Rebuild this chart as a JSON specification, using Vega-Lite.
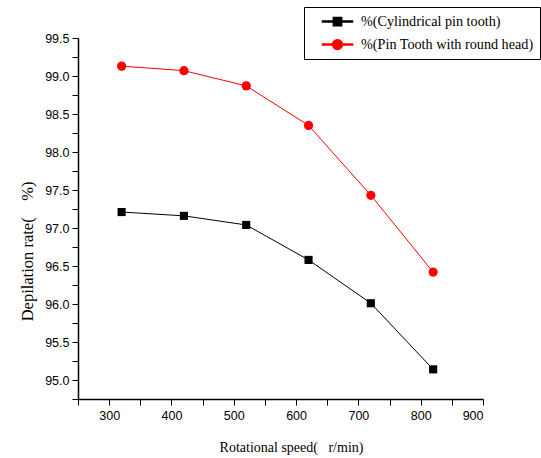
{
  "$schema": "https://vega.github.io/schema/vega-lite/v6.json",
  "width": 405,
  "height": 361,
  "autosize": {"type": "none"},
  "padding": {"left": 78, "top": 38, "right": 58, "bottom": 59},
  "background": "white",
  "config": {
    "view": {"stroke": null},
    "axis": {
      "grid": false,
      "domainColor": "black",
      "domainWidth": 1.5,
      "tickColor": "black",
      "tickWidth": 1,
      "tickSize": 6,
      "labelColor": "black",
      "labelFont": "Liberation Sans, Arial",
      "labelFontSize": 12.5,
      "titleFont": "Liberation Serif",
      "titleFontSize": 14,
      "titleFontWeight": "normal",
      "titleColor": "black"
    }
  },
  "data": {
    "values": [
      {"speed": 320, "rate": 97.21, "series": "%(Cylindrical pin tooth)"},
      {"speed": 420, "rate": 97.16, "series": "%(Cylindrical pin tooth)"},
      {"speed": 520, "rate": 97.04, "series": "%(Cylindrical pin tooth)"},
      {"speed": 620, "rate": 96.58, "series": "%(Cylindrical pin tooth)"},
      {"speed": 720, "rate": 96.01, "series": "%(Cylindrical pin tooth)"},
      {"speed": 820, "rate": 95.14, "series": "%(Cylindrical pin tooth)"},
      {"speed": 320, "rate": 99.13, "series": "%(Pin Tooth with round head)"},
      {"speed": 420, "rate": 99.07, "series": "%(Pin Tooth with round head)"},
      {"speed": 520, "rate": 98.87, "series": "%(Pin Tooth with round head)"},
      {"speed": 620, "rate": 98.35, "series": "%(Pin Tooth with round head)"},
      {"speed": 720, "rate": 97.43, "series": "%(Pin Tooth with round head)"},
      {"speed": 820, "rate": 96.42, "series": "%(Pin Tooth with round head)"}
    ]
  },
  "encoding": {
    "x": {
      "field": "speed",
      "type": "quantitative",
      "scale": {"domain": [250, 900], "nice": false, "zero": false},
      "axis": {
        "title": "Rotational speed(\u00a0\u00a0\u00a0r/min)",
        "values": [250, 300, 350, 400, 450, 500, 550, 600, 650, 700, 750, 800, 850, 900],
        "labelExpr": "datum.value % 100 === 0 ? datum.label : ''",
        "labelPadding": 4,
        "titleX": 213,
        "titleY": 48,
        "titleBaseline": "middle",
        "encode": {
          "ticks": {"update": {"y2": {"signal": "datum.value % 100 === 0 ? 6 : 3"}}}
        }
      }
    },
    "y": {
      "field": "rate",
      "type": "quantitative",
      "scale": {"domain": [94.75, 99.5], "nice": false, "zero": false},
      "axis": {
        "title": "Depilation rate(\u00a0\u00a0\u00a0\u00a0%)",
        "titleFontSize": 16.5,
        "values": [94.75, 95, 95.25, 95.5, 95.75, 96, 96.25, 96.5, 96.75, 97, 97.25, 97.5, 97.75, 98, 98.25, 98.5, 98.75, 99, 99.25, 99.5],
        "format": ".1f",
        "labelExpr": "abs(datum.value * 2 - round(datum.value * 2)) < 0.000001 ? datum.label : ''",
        "labelPadding": 3,
        "titleX": -51,
        "titleY": 213,
        "titleBaseline": "middle",
        "encode": {
          "ticks": {"update": {"x2": {"signal": "abs(datum.value * 2 - round(datum.value * 2)) < 0.000001 ? -6 : -3"}}}
        }
      }
    }
  },
  "layer": [
    {
      "mark": {"type": "line", "strokeWidth": 1},
      "encoding": {
        "color": {
          "field": "series",
          "type": "nominal",
          "scale": {"domain": ["%(Cylindrical pin tooth)", "%(Pin Tooth with round head)"], "range": ["black", "#ff0000"]},
          "legend": {
            "title": null,
            "orient": "none",
            "legendX": 226,
            "legendY": -31,
            "strokeColor": "black",
            "fillColor": "white",
            "padding": 6,
            "symbolSize": 225,
            "symbolOffset": 19,
            "labelOffset": 15,
            "labelLimit": 400,
            "rowPadding": 7,
            "labelFont": "Liberation Serif",
            "labelFontSize": 14.2,
            "labelColor": "black",
            "encode": {
              "symbols": {
                "update": {
                  "shape": {"signal": "datum.value === '%(Cylindrical pin tooth)' ? 'M-2,-0.06H-0.5V0.06H-2ZM0.5,-0.06H2V0.06H0.5ZM-0.55,-0.55H0.55V0.55H-0.55Z' : 'M-2,-0.06H-0.6V0.06H-2ZM0.6,-0.06H2V0.06H0.6ZM0.65,0A0.65,0.65 0 1,1 -0.65,0A0.65,0.65 0 1,1 0.65,0Z'"},
                  "fill": {"signal": "datum.value === '%(Cylindrical pin tooth)' ? 'black' : '#ff0000'"},
                  "stroke": {"signal": "'transparent'"}
                }
              }
            }
          }
        }
      }
    },
    {
      "transform": [{"filter": "datum.series === '%(Cylindrical pin tooth)'"}],
      "mark": {"type": "point", "shape": "square", "filled": true, "opacity": 1, "strokeWidth": 0, "size": 66, "color": "black"}
    },
    {
      "transform": [{"filter": "datum.series === '%(Pin Tooth with round head)'"}],
      "mark": {"type": "point", "shape": "circle", "filled": true, "opacity": 1, "strokeWidth": 0, "size": 85, "color": "#ff0000"}
    }
  ]
}
